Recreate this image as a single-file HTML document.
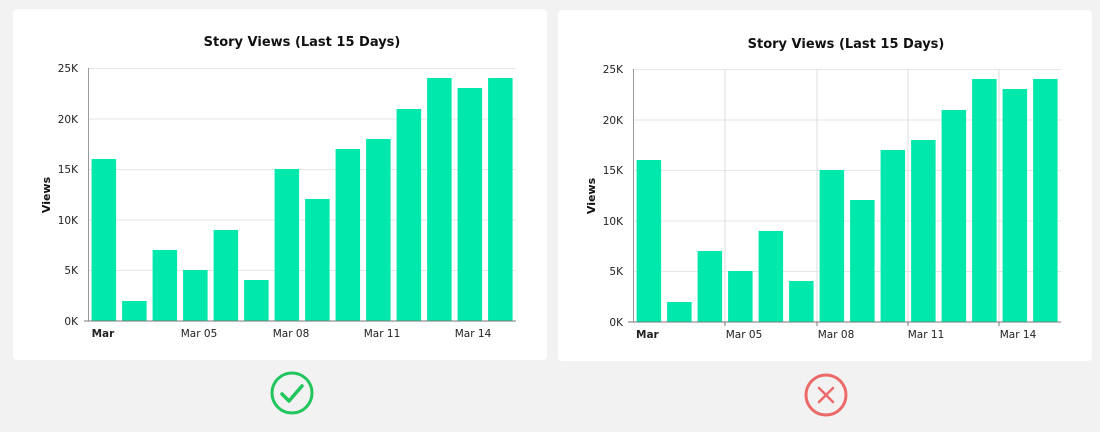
<!DOCTYPE html>
<html><head><meta charset="utf-8"><style>
html,body{margin:0;padding:0;background:#f2f2f2;width:1100px;height:432px;overflow:hidden}
svg{display:block}
text{font-family:"DejaVu Sans","Liberation Sans",sans-serif}
</style></head><body>
<svg width="1100" height="432" viewBox="0 0 1100 432">
<rect x="0" y="0" width="1100" height="432" fill="#f2f2f2"/>
<!-- Left card -->
<rect x="13" y="9" width="534" height="351" rx="4" fill="#fff"/>
<text x="302" y="46" font-size="13" font-weight="bold" text-anchor="middle" fill="#111">Story Views (Last 15 Days)</text>
<g stroke="#e6e6e6" stroke-width="1">
<line x1="88" x2="516" y1="68.5" y2="68.5"/><line x1="88" x2="516" y1="119" y2="119"/>
<line x1="88" x2="516" y1="169.5" y2="169.5"/><line x1="88" x2="516" y1="220" y2="220"/>
<line x1="88" x2="516" y1="270.5" y2="270.5"/>
</g>
<g font-size="10.5" fill="#222" text-anchor="end">
<text x="78" y="72">25K</text><text x="78" y="123">20K</text><text x="78" y="173">15K</text>
<text x="78" y="224">10K</text><text x="78" y="274">5K</text><text x="78" y="325">0K</text>
</g>
<text transform="translate(50,195) rotate(-90)" font-size="11" font-weight="bold" text-anchor="middle" fill="#111">Views</text>
<g fill="#00e8ab">
<rect x="91.6" y="159" width="24.5" height="162"/><rect x="122.1" y="301" width="24.5" height="20"/>
<rect x="152.6" y="250" width="24.5" height="71"/><rect x="183.1" y="270" width="24.5" height="51"/>
<rect x="213.6" y="230" width="24.5" height="91"/><rect x="244.1" y="280" width="24.5" height="41"/>
<rect x="274.6" y="169" width="24.5" height="152"/><rect x="305.1" y="199" width="24.5" height="122"/>
<rect x="335.6" y="149" width="24.5" height="172"/><rect x="366.1" y="139" width="24.5" height="182"/>
<rect x="396.6" y="109" width="24.5" height="212"/><rect x="427.1" y="78" width="24.5" height="243"/>
<rect x="457.6" y="88" width="24.5" height="233"/><rect x="488.1" y="78" width="24.5" height="243"/>
</g>
<line x1="88.5" x2="88.5" y1="68" y2="321" stroke="#999"/>
<line x1="84" x2="516" y1="321" y2="321" stroke="#777"/>
<g font-size="10.5" fill="#222">
<text x="91.6" y="337" font-weight="bold">Mar</text>
<text x="199" y="337" text-anchor="middle">Mar 05</text>
<text x="291" y="337" text-anchor="middle">Mar 08</text>
<text x="382" y="337" text-anchor="middle">Mar 11</text>
<text x="473" y="337" text-anchor="middle">Mar 14</text>
</g>
<circle cx="292" cy="393" r="20" fill="none" stroke="#22c55e" stroke-width="3"/>
<polyline points="282,394 289,401 302,386" fill="none" stroke="#22c55e" stroke-width="3.5" stroke-linecap="round" stroke-linejoin="round"/>

<!-- Right card -->
<rect x="558" y="10" width="534" height="351" rx="4" fill="#fff"/>
<text x="846" y="48" font-size="13" font-weight="bold" text-anchor="middle" fill="#111">Story Views (Last 15 Days)</text>
<g stroke="#e6e6e6" stroke-width="1">
<line x1="633" x2="1061" y1="69.5" y2="69.5"/><line x1="633" x2="1061" y1="120" y2="120"/>
<line x1="633" x2="1061" y1="170.5" y2="170.5"/><line x1="633" x2="1061" y1="221" y2="221"/>
<line x1="633" x2="1061" y1="271.5" y2="271.5"/>
<line x1="725" x2="725" y1="69" y2="326" stroke="#ddd"/><line x1="817" x2="817" y1="69" y2="326" stroke="#ddd"/>
<line x1="908" x2="908" y1="69" y2="326" stroke="#ddd"/><line x1="999" x2="999" y1="69" y2="326" stroke="#ddd"/>
</g>
<g font-size="10.5" fill="#222" text-anchor="end">
<text x="623" y="73">25K</text><text x="623" y="124">20K</text><text x="623" y="174">15K</text>
<text x="623" y="225">10K</text><text x="623" y="275">5K</text><text x="623" y="326">0K</text>
</g>
<text transform="translate(595,196) rotate(-90)" font-size="11" font-weight="bold" text-anchor="middle" fill="#111">Views</text>
<g fill="#00e8ab">
<rect x="636.6" y="160" width="24.5" height="162"/><rect x="667.1" y="302" width="24.5" height="20"/>
<rect x="697.6" y="251" width="24.5" height="71"/><rect x="728.1" y="271" width="24.5" height="51"/>
<rect x="758.6" y="231" width="24.5" height="91"/><rect x="789.1" y="281" width="24.5" height="41"/>
<rect x="819.6" y="170" width="24.5" height="152"/><rect x="850.1" y="200" width="24.5" height="122"/>
<rect x="880.6" y="150" width="24.5" height="172"/><rect x="911.1" y="140" width="24.5" height="182"/>
<rect x="941.6" y="110" width="24.5" height="212"/><rect x="972.1" y="79" width="24.5" height="243"/>
<rect x="1002.6" y="89" width="24.5" height="233"/><rect x="1033.1" y="79" width="24.5" height="243"/>
</g>
<line x1="633.5" x2="633.5" y1="69" y2="322" stroke="#999"/>
<line x1="628" x2="1061" y1="322" y2="322" stroke="#777"/>
<g stroke="#777"><line x1="725" x2="725" y1="322" y2="326"/><line x1="817" x2="817" y1="322" y2="326"/><line x1="908" x2="908" y1="322" y2="326"/><line x1="999" x2="999" y1="322" y2="326"/></g>
<g font-size="10.5" fill="#222">
<text x="636" y="338" font-weight="bold">Mar</text>
<text x="744" y="338" text-anchor="middle">Mar 05</text>
<text x="836" y="338" text-anchor="middle">Mar 08</text>
<text x="926" y="338" text-anchor="middle">Mar 11</text>
<text x="1018" y="338" text-anchor="middle">Mar 14</text>
</g>
<circle cx="826" cy="395" r="20" fill="none" stroke="#ec6a6a" stroke-width="3"/>
<line x1="819" y1="388" x2="833" y2="402" stroke="#ec6a6a" stroke-width="2.5" stroke-linecap="round"/>
<line x1="833" y1="388" x2="819" y2="402" stroke="#ec6a6a" stroke-width="2.5" stroke-linecap="round"/>
</svg>
</body></html>
